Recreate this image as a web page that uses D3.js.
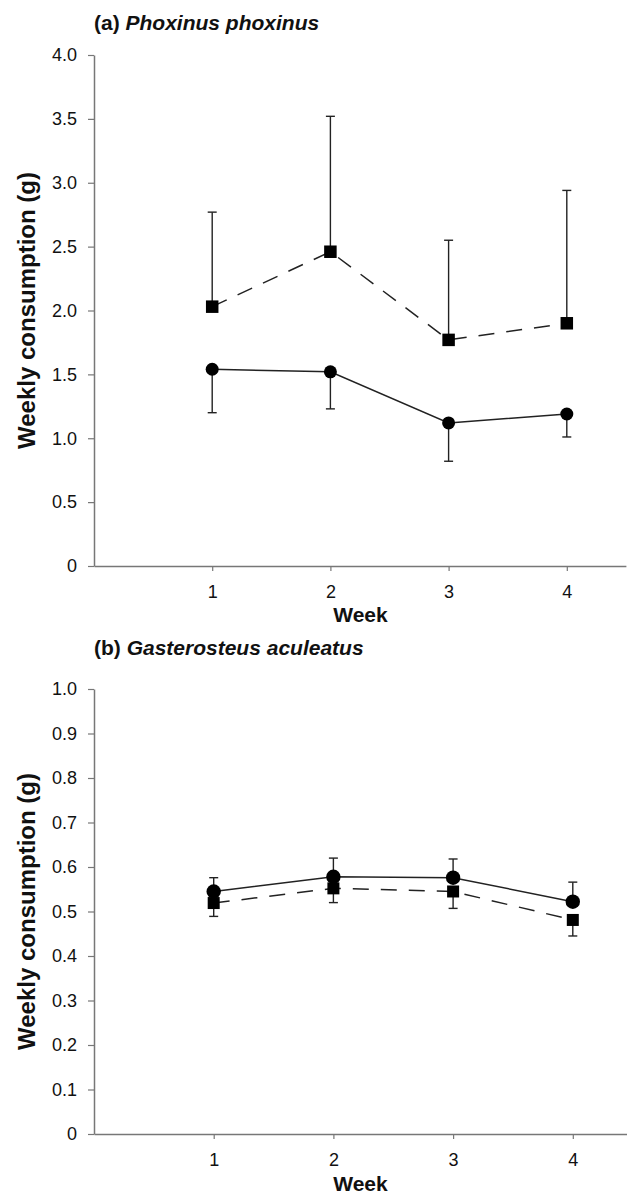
<!DOCTYPE html>
<html>
<head>
<meta charset="utf-8">
<script src="https://cdn.jsdelivr.net/npm/d3@7"></script>
<style>
html,body{margin:0;padding:0;background:#fff;}
svg{display:block;}
text{font-family:"Liberation Sans",Arial,sans-serif;fill:#111;}
</style>
</head>
<body>
<svg id="chart" width="627" height="1196"></svg>
<script>
// ---- data ----
const weeks = [1, 2, 3, 4];
const weekTicks = ["1", "2", "3", "4"];

// panel (a) Phoxinus phoxinus
const aSquare = [2.03, 2.46, 1.77, 1.90];
const aSquareUpper = [2.77, 3.52, 2.55, 2.94];
const aCircle = [1.54, 1.52, 1.12, 1.19];
const aCircleLower = [1.20, 1.23, 0.82, 1.01];
const aYTicks = [0, 0.5, 1.0, 1.5, 2.0, 2.5, 3.0, 3.5, 4.0];
const aYTickLabels = ["0", "0.5", "1.0", "1.5", "2.0", "2.5", "3.0", "3.5", "4.0"];

// panel (b) Gasterosteus aculeatus
const bCircle = [0.545, 0.578, 0.576, 0.522];
const bCircleUpper = [0.576, 0.620, 0.618, 0.566];
const bSquare = [0.519, 0.552, 0.545, 0.481];
const bSquareLower = [0.489, 0.520, 0.507, 0.445];
const bYTicks = [0, 0.1, 0.2, 0.3, 0.4, 0.5, 0.6, 0.7, 0.8, 0.9, 1.0];
const bYTickLabels = ["0", "0.1", "0.2", "0.3", "0.4", "0.5", "0.6", "0.7", "0.8", "0.9", "1.0"];

const svg = d3.select("#chart");

function panel(cfg) {
  const x = d3.scaleLinear().domain([0, 4.5]).range([cfg.x0, cfg.x1]);
  const y = d3.scaleLinear().domain([0, cfg.yMax]).range([cfg.yBottom, cfg.yTop]);
  const g = svg.append("g");

  // axes
  const yAxis = d3.axisLeft(y).tickValues(cfg.yTicks)
    .tickFormat((d, i) => cfg.yTickLabels[i]).tickSizeOuter(0).tickSizeInner(6).tickPadding(11);
  const ya = g.append("g").attr("transform", `translate(${cfg.x0},0)`).call(yAxis);
  const xAxis = d3.axisBottom(x).tickValues(weeks)
    .tickFormat((d, i) => weekTicks[i]).tickSizeOuter(0).tickSizeInner(5).tickPadding(14);
  const xa = g.append("g").attr("transform", `translate(0,${cfg.yBottom})`).call(xAxis);
  [ya, xa].forEach(a => {
    a.select(".domain").attr("stroke", "#777").attr("stroke-width", 1.5);
    a.selectAll(".tick line").attr("stroke", "#777").attr("stroke-width", 1.2);
    a.selectAll(".tick text").style("font-size", "18px").attr("fill", "#111");
  });

  // titles
  const t = g.append("text").attr("x", cfg.x0).attr("y", cfg.titleY)
    .style("font-size", "21px").style("font-weight", "bold");
  t.append("tspan").text(cfg.titlePrefix);
  t.append("tspan").style("font-style", "italic").text(cfg.titleItalic);

  g.append("text").attr("x", (cfg.x0 + 627) / 2).attr("y", cfg.weekY)
    .attr("text-anchor", "middle").style("font-size", "21px").style("font-weight", "bold").text("Week");

  g.append("text")
    .attr("transform", `translate(35,${(cfg.yTop + cfg.yBottom) / 2}) rotate(-90)`)
    .attr("text-anchor", "middle").style("font-size", "24px").style("font-weight", "bold")
    .text("Weekly consumption (g)");

  const ink = "#222";
  // error bars
  const eb = (vals, bounds) => weeks.forEach((w, i) => {
    const cx = x(w);
    g.append("line").attr("x1", cx).attr("x2", cx).attr("y1", y(vals[i])).attr("y2", y(bounds[i]))
      .attr("stroke", ink).attr("stroke-width", 1.4);
    g.append("line").attr("x1", cx - 4.5).attr("x2", cx + 4.5).attr("y1", y(bounds[i])).attr("y2", y(bounds[i]))
      .attr("stroke", ink).attr("stroke-width", 1.4);
  });
  eb(cfg.sq, cfg.sqBound);
  eb(cfg.ci, cfg.ciBound);

  const line = d3.line().x((d, i) => x(weeks[i])).y(d => y(d));
  g.append("path").attr("d", line(cfg.sq)).attr("fill", "none").attr("stroke", ink)
    .attr("stroke-width", 1.5).attr("stroke-dasharray", "16,12");
  g.append("path").attr("d", line(cfg.ci)).attr("fill", "none").attr("stroke", ink)
    .attr("stroke-width", 1.5);

  const s = cfg.sqSize;
  g.selectAll(null).data(cfg.sq).enter().append("rect")
    .attr("x", (d, i) => x(weeks[i]) - s / 2).attr("y", d => y(d) - s / 2)
    .attr("width", s).attr("height", s).attr("fill", "#000");
  g.selectAll(null).data(cfg.ci).enter().append("circle")
    .attr("cx", (d, i) => x(weeks[i])).attr("cy", d => y(d)).attr("r", cfg.ciR).attr("fill", "#000");
}

panel({
  x0: 94, x1: 94 + 4.5 * 118.2, yTop: 55, yBottom: 566, yMax: 4,
  yTicks: aYTicks, yTickLabels: aYTickLabels,
  titleY: 30, titlePrefix: "(a) ", titleItalic: "Phoxinus phoxinus", weekY: 622,
  sq: aSquare, sqBound: aSquareUpper, ci: aCircle, ciBound: aCircleLower,
  sqSize: 12.5, ciR: 6.5
});
panel({
  x0: 94, x1: 94 + 4.5 * 119.7, yTop: 689, yBottom: 1134, yMax: 1,
  yTicks: bYTicks, yTickLabels: bYTickLabels,
  titleY: 655, titlePrefix: "(b) ", titleItalic: "Gasterosteus aculeatus", weekY: 1191,
  sq: bSquare, sqBound: bSquareLower, ci: bCircle, ciBound: bCircleUpper,
  sqSize: 12, ciR: 7.2
});
</script>
</body>
</html>
